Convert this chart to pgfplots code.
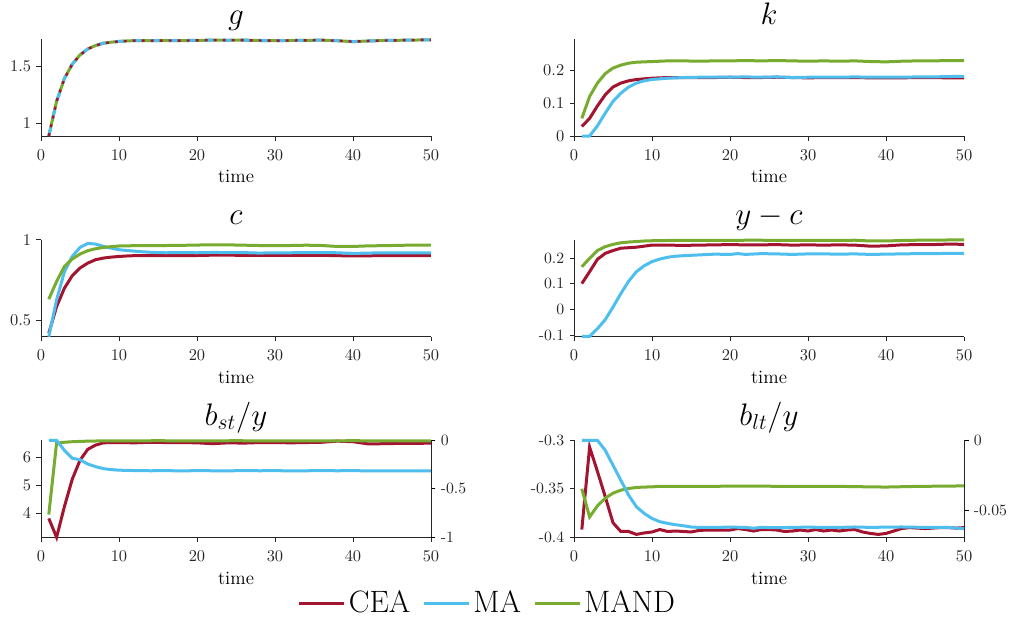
\documentclass[border=0pt]{standalone}
\usepackage{pgfplots}
\pgfplotsset{compat=1.18}
\definecolor{cea}{HTML}{A2142F}
\definecolor{ma}{HTML}{4DBEEE}
\definecolor{mand}{HTML}{77AC30}
\pgfplotsset{
  base/.style={scale only axis, width=260pt, height=64.67pt, xmin=0, xmax=50, clip=false,
    scaled y ticks=false,
    axis line style={black!85, line width=0.5pt},
    tick label style={font=\fontsize{10.5}{12}\selectfont, text=black!85},
    title style={font=\fontsize{21.5}{25}\selectfont, at={(axis description cs:0.5,1)}, anchor=base, yshift=4pt, inner sep=0pt},
    every axis plot/.append style={line width=2pt},
  },
  mainax/.style={base, axis x line*=bottom, axis y line*=left, xtick={0,10,...,50}, xlabel={time},
    tick align=outside, major tick length=3pt, tick style={black!85, line width=0.5pt},
    xticklabel style={yshift=-2.6pt},
    xlabel style={font=\fontsize{12.6}{14}\selectfont, at={(axis description cs:0.5,0)}, anchor=base, yshift=-31.3pt}},
  rightax/.style={base, axis x line=none, axis y line*=right,
    tick align=outside, major tick length=3pt, tick style={black, line width=0.5pt}},
}
\begin{document}
\begin{tikzpicture}
\path[use as bounding box] (0,0) rectangle (674pt,-415.33pt);

% ---------- g ----------
\begin{axis}[mainax, at={(27.33pt,-90.67pt)}, anchor=south west, title={$g$},
  ymin=0.886, ymax=1.737, ytick={1,1.5}]
\addplot[mand, solid] coordinates {(1,0.886)(2,1.19)(3,1.39)(4,1.515)(5,1.597)(6,1.65)(7,1.68)(8,1.70)(9,1.709)(10,1.716)(11,1.72)(12,1.723)(14,1.722)(16,1.724)(18,1.723)(20,1.725)(22,1.727)(24,1.726)(26,1.727)(28,1.724)(30,1.723)(32,1.724)(34,1.725)(36,1.727)(38,1.722)(40,1.714)(42,1.72)(44,1.724)(46,1.726)(48,1.728)(50,1.73)};
\addplot[ma, dash pattern=on 6pt off 6pt] coordinates {(1,0.886)(2,1.19)(3,1.39)(4,1.515)(5,1.597)(6,1.65)(7,1.68)(8,1.70)(9,1.709)(10,1.716)(11,1.72)(12,1.723)(14,1.722)(16,1.724)(18,1.723)(20,1.725)(22,1.727)(24,1.726)(26,1.727)(28,1.724)(30,1.723)(32,1.724)(34,1.725)(36,1.727)(38,1.722)(40,1.714)(42,1.72)(44,1.724)(46,1.726)(48,1.728)(50,1.73)};
\addplot[cea, dash pattern=on 2pt off 4pt, line width=1.6pt] coordinates {(1,0.886)(2,1.19)(3,1.39)(4,1.515)(5,1.597)(6,1.65)(7,1.68)(8,1.70)(9,1.709)(10,1.716)(11,1.72)(12,1.723)(14,1.722)(16,1.724)(18,1.723)(20,1.725)(22,1.727)(24,1.726)(26,1.727)(28,1.724)(30,1.723)(32,1.724)(34,1.725)(36,1.727)(38,1.722)(40,1.714)(42,1.72)(44,1.724)(46,1.726)(48,1.728)(50,1.73)};
\end{axis}

% ---------- k ----------
\begin{axis}[mainax, at={(382.67pt,-90.67pt)}, anchor=south west, title={$k$},
  ymin=0, ymax=0.297, ytick={0,0.1,0.2}]
\addplot[cea] coordinates {(1,0.029)(2,0.054)(3,0.092)(4,0.126)(5,0.150)(6,0.162)(7,0.169)(8,0.173)(9,0.175)(10,0.177)(11,0.178)(12,0.179)(14,0.179)(16,0.179)(18,0.179)(20,0.180)(22,0.179)(24,0.179)(26,0.180)(28,0.179)(30,0.178)(32,0.179)(34,0.179)(36,0.179)(38,0.178)(40,0.178)(42,0.178)(44,0.179)(46,0.179)(48,0.178)(50,0.178)};
\addplot[ma] coordinates {(1,0)(2,0)(3,0.031)(4,0.070)(5,0.106)(6,0.131)(7,0.150)(8,0.162)(9,0.169)(10,0.173)(11,0.175)(12,0.177)(14,0.179)(16,0.180)(18,0.180)(20,0.180)(22,0.181)(24,0.180)(26,0.181)(28,0.179)(30,0.180)(32,0.180)(34,0.180)(36,0.181)(38,0.180)(40,0.180)(42,0.180)(44,0.181)(46,0.181)(48,0.182)(50,0.183)};
\addplot[mand] coordinates {(1,0.054)(2,0.121)(3,0.162)(4,0.191)(5,0.208)(6,0.217)(7,0.223)(8,0.226)(9,0.227)(10,0.228)(12,0.230)(14,0.230)(16,0.229)(18,0.230)(20,0.230)(22,0.231)(24,0.230)(26,0.231)(28,0.230)(30,0.229)(32,0.230)(34,0.229)(36,0.230)(38,0.228)(40,0.227)(42,0.229)(44,0.230)(46,0.230)(48,0.231)(50,0.231)};
\end{axis}

% ---------- c ----------
\begin{axis}[mainax, at={(27.33pt,-224.47pt)}, anchor=south west, title={$c$},
  ymin=0.398, ymax=1, ytick={0.5,1}]
\addplot[cea] coordinates {(1,0.419)(2,0.585)(3,0.699)(4,0.776)(5,0.824)(6,0.855)(7,0.876)(8,0.886)(9,0.892)(10,0.896)(11,0.899)(12,0.901)(14,0.902)(16,0.902)(18,0.902)(20,0.902)(22,0.904)(24,0.904)(26,0.903)(28,0.902)(30,0.903)(32,0.903)(34,0.903)(36,0.903)(38,0.901)(40,0.899)(42,0.900)(44,0.902)(46,0.902)(48,0.902)(50,0.902)};
\addplot[ma] coordinates {(1,0.398)(2,0.627)(3,0.80)(4,0.896)(5,0.952)(6,0.977)(7,0.973)(8,0.959)(9,0.948)(10,0.938)(11,0.933)(12,0.929)(13,0.925)(14,0.922)(15,0.920)(16,0.919)(18,0.920)(20,0.919)(22,0.921)(24,0.920)(26,0.920)(28,0.917)(30,0.919)(32,0.919)(34,0.920)(36,0.920)(38,0.919)(40,0.915)(42,0.917)(44,0.919)(46,0.919)(48,0.919)(50,0.919)};
\addplot[mand] coordinates {(1,0.631)(2,0.741)(3,0.834)(4,0.88)(5,0.911)(6,0.932)(7,0.944)(8,0.952)(9,0.957)(10,0.961)(12,0.963)(14,0.963)(16,0.964)(18,0.965)(20,0.967)(22,0.968)(24,0.968)(26,0.966)(28,0.964)(30,0.964)(32,0.964)(34,0.966)(36,0.964)(38,0.958)(40,0.958)(42,0.962)(44,0.963)(46,0.965)(48,0.967)(50,0.966)};
\end{axis}

% ---------- y-c ----------
\begin{axis}[mainax, at={(382.67pt,-224.47pt)}, anchor=south west, title={$y-c$},
  ymin=-0.105, ymax=0.271, ytick={-0.1,0,0.1,0.2}, yticklabels={-0.1,0,0.1,0.2}]
\addplot[cea] coordinates {(1,0.101)(2,0.147)(3,0.195)(4,0.218)(5,0.229)(6,0.238)(7,0.240)(8,0.242)(9,0.246)(10,0.250)(12,0.250)(14,0.249)(16,0.250)(18,0.251)(20,0.252)(22,0.251)(24,0.251)(26,0.252)(28,0.250)(30,0.251)(32,0.250)(34,0.251)(36,0.250)(38,0.246)(40,0.247)(42,0.251)(44,0.252)(46,0.252)(48,0.254)(50,0.253)};
\addplot[ma] coordinates {(1,-0.104)(2,-0.104)(3,-0.074)(4,-0.039)(5,0.01)(6,0.062)(7,0.11)(8,0.147)(9,0.170)(10,0.186)(11,0.196)(12,0.203)(13,0.207)(14,0.209)(16,0.212)(18,0.215)(20,0.214)(21,0.217)(22,0.214)(24,0.217)(26,0.216)(28,0.214)(30,0.216)(32,0.216)(34,0.215)(36,0.216)(38,0.214)(40,0.215)(42,0.216)(44,0.217)(46,0.217)(48,0.218)(50,0.218)};
\addplot[mand] coordinates {(1,0.166)(2,0.199)(3,0.229)(4,0.244)(5,0.253)(6,0.259)(7,0.262)(8,0.264)(9,0.266)(10,0.267)(12,0.268)(14,0.268)(16,0.268)(18,0.268)(20,0.268)(22,0.269)(24,0.269)(26,0.268)(28,0.268)(30,0.268)(32,0.268)(34,0.268)(36,0.269)(38,0.266)(40,0.266)(42,0.268)(44,0.269)(46,0.269)(48,0.270)(50,0.270)};
\end{axis}

% ---------- b_st/y ----------
\begin{axis}[mainax, at={(27.33pt,-358.2pt)}, anchor=south west, title={$b_{st}/y$},
  ymin=3.15, ymax=6.60, ytick={4,5,6},
  legend image code/.code={\draw[#1, line width=2pt] (0pt,0pt) -- (30pt,0pt);},
  legend style={at={(axis description cs:1.146,-0.678)}, anchor=center, draw=none, fill=none,
    font=\fontsize{20.6}{24}\selectfont, legend columns=3,
    /tikz/every even column/.append style={column sep=6pt}}]
\addlegendimage{cea}
\addlegendimage{ma}
\addlegendimage{mand}
\addplot[cea, forget plot] coordinates {(1,3.82)(2,3.15)(3,4.24)(4,5.21)(5,5.89)(6,6.28)(7,6.43)(8,6.51)(9,6.52)(10,6.52)(12,6.51)(14,6.53)(16,6.52)(18,6.52)(20,6.51)(22,6.48)(24,6.51)(26,6.50)(28,6.52)(30,6.52)(32,6.51)(34,6.52)(36,6.53)(38,6.57)(40,6.55)(42,6.47)(44,6.48)(46,6.49)(48,6.49)(50,6.50)};
\addplot[mand, forget plot] coordinates {(1,3.96)(2,6.51)(3,6.53)(4,6.55)(5,6.56)(6,6.57)(8,6.58)(10,6.58)(15,6.585)(20,6.58)(25,6.585)(30,6.58)(35,6.58)(40,6.585)(45,6.58)(50,6.58)};
\legend{CEA,MA,MAND}
\end{axis}
\begin{axis}[rightax, at={(27.33pt,-358.2pt)}, anchor=south west,
  ymin=-1, ymax=0, ytick={-1,-0.5,0}, yticklabels={-1,-0.5,0}]
\addplot[ma] coordinates {(1,0)(2,0)(3,-0.103)(4,-0.185)(5,-0.2)(6,-0.245)(7,-0.272)(8,-0.292)(9,-0.302)(10,-0.308)(12,-0.312)(14,-0.314)(16,-0.313)(18,-0.315)(20,-0.313)(22,-0.314)(24,-0.315)(26,-0.312)(28,-0.314)(30,-0.313)(32,-0.315)(34,-0.314)(36,-0.313)(38,-0.314)(40,-0.313)(42,-0.315)(44,-0.314)(46,-0.315)(48,-0.316)(50,-0.315)};
\end{axis}

% ---------- b_lt/y ----------
\begin{axis}[mainax, at={(382.67pt,-358.2pt)}, anchor=south west, title={$b_{lt}/y$},
  ymin=-0.4, ymax=-0.3, ytick={-0.4,-0.35,-0.3}, yticklabels={-0.4,-0.35,-0.3}]
\addplot[cea] coordinates {(1,-0.392)(2,-0.307)(3,-0.332)(4,-0.358)(5,-0.385)(6,-0.394)(7,-0.394)(8,-0.397)(9,-0.3955)(10,-0.3945)(11,-0.392)(12,-0.394)(13,-0.3935)(14,-0.394)(15,-0.3945)(16,-0.393)(17,-0.3925)(18,-0.3925)(19,-0.3925)(20,-0.3925)(21,-0.391)(22,-0.392)(23,-0.3935)(24,-0.392)(25,-0.392)(26,-0.3925)(27,-0.394)(28,-0.3935)(29,-0.3925)(30,-0.3935)(31,-0.392)(32,-0.3935)(33,-0.3925)(34,-0.3935)(35,-0.3925)(36,-0.392)(37,-0.3945)(38,-0.396)(39,-0.397)(40,-0.396)(41,-0.3935)(42,-0.391)(43,-0.390)(44,-0.3905)(45,-0.391)(46,-0.3905)(47,-0.390)(48,-0.390)(49,-0.3905)(50,-0.390)};
\addplot[mand] coordinates {(1,-0.35)(2,-0.379)(3,-0.3676)(4,-0.3597)(5,-0.3545)(6,-0.3514)(7,-0.3497)(8,-0.3486)(9,-0.3482)(10,-0.348)(11,-0.3474)(14,-0.3475)(18,-0.3474)(22,-0.3472)(26,-0.3474)(30,-0.3476)(34,-0.3475)(38,-0.348)(40,-0.3482)(44,-0.3475)(48,-0.3472)(50,-0.3470)};
\end{axis}
\begin{axis}[rightax, at={(382.67pt,-358.2pt)}, anchor=south west,
  ymin=-0.0695, ymax=0, ytick={-0.05,0}, yticklabels={-0.05,0}]
\addplot[ma] coordinates {(1,0)(2,0)(3,0)(4,-0.0071)(5,-0.0179)(6,-0.0286)(7,-0.0393)(8,-0.0476)(9,-0.0524)(10,-0.056)(11,-0.0583)(12,-0.0595)(13,-0.0605)(14,-0.0612)(15,-0.0621)(16,-0.0624)(18,-0.0624)(20,-0.0622)(22,-0.0624)(23,-0.0630)(24,-0.0624)(26,-0.0626)(28,-0.0624)(30,-0.0622)(32,-0.0624)(34,-0.0624)(36,-0.0621)(38,-0.0624)(40,-0.0622)(42,-0.0621)(44,-0.0623)(46,-0.0624)(48,-0.0624)(50,-0.0633)};
\end{axis}
\end{tikzpicture}
\end{document}
